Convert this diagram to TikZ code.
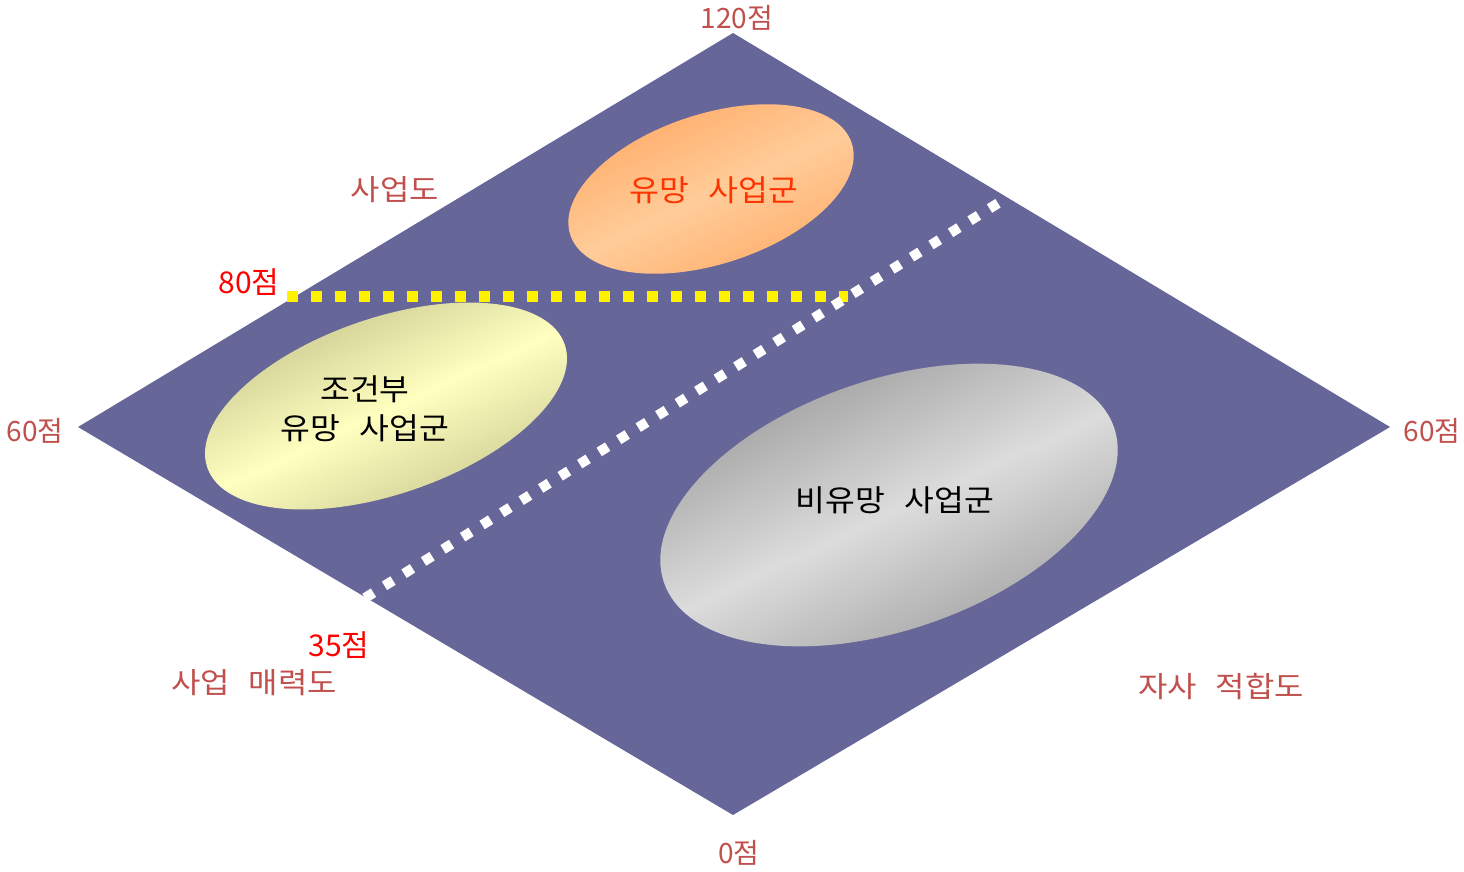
\documentclass[tikz,border=0pt]{standalone}
\usepackage{fontspec}
\setmainfont{Noto Sans CJK KR}
\definecolor{board}{HTML}{666699}
\definecolor{lbl}{HTML}{C0504D}
\definecolor{topred}{HTML}{FF3300}
\definecolor{orgdark}{HTML}{FFAA66}
\definecolor{orglight}{HTML}{FFCC99}
\definecolor{yeldark}{HTML}{C4C48C}
\definecolor{yellight}{HTML}{FFFFC0}
\definecolor{graydark}{HTML}{9A9A9A}
\definecolor{graylight}{HTML}{DCDCDC}
\newcommand\gap{\hspace{0.6em}}
\tikzset{
  numlabel/.style={text=lbl, font=\fontsize{28}{32}\selectfont, inner sep=0pt},
  wordlabel/.style={text=lbl, font=\fontsize{29}{32}\selectfont, inner sep=0pt, transform shape, xscale=1.1},
  cutlabel/.style={text=red, font=\fontsize{30}{34}\selectfont, inner sep=0pt},
  grouptext/.style={font=\fontsize{30}{39}\selectfont, inner sep=0pt, align=center, transform shape, xscale=1.08},
  yellowdots/.style={draw=yellow, line width=11pt, dash pattern=on 11pt off 13pt},
  whitedots/.style={draw=white, line width=10pt, dash pattern=on 10pt off 13pt},
}
\begin{document}
\begin{tikzpicture}[x=1pt,y=-1pt]
\useasboundingbox (0,0) rectangle (1464,872);
% board corners
\coordinate (T) at (733,33);
\coordinate (R) at (1390,427);
\coordinate (B) at (733,815);
\coordinate (L) at (78,427);
\fill[board] (T) -- (R) -- (B) -- (L) -- cycle;
% ellipses
\begin{scope}[shift={(711,189)}, rotate=18]
  \shade[top color=orgdark, bottom color=orgdark, middle color=orglight, shading angle=25]
    (0,0) ellipse[x radius=148, y radius=75];
\end{scope}
\begin{scope}[shift={(386,406)}, rotate=19]
  \shade[top color=yeldark, bottom color=yeldark, middle color=yellight, shading angle=25]
    (0,0) ellipse[x radius=189, y radius=88];
\end{scope}
\begin{scope}[shift={(889,505)}, rotate=19]
  \shade[top color=graydark, bottom color=graydark, middle color=graylight, shading angle=25]
    (0,0) ellipse[x radius=238, y radius=125];
\end{scope}
% dotted cut lines
\coordinate (Ys) at (287,296);
\coordinate (Ye) at (848,296);
\coordinate (Ws) at (365,598);
\coordinate (We) at (1008,197);
\draw[yellowdots] (Ys) -- (Ye);
\draw[whitedots] (Ws) -- (We);
% group texts
\node[grouptext, text=topred] (g1) at (714,190) {유망\gap 사업군};
\node[grouptext, text=black] (g2) at (365,409) {조건부\\유망\gap 사업군};
\node[grouptext, text=black] (g3) at (895,500) {비유망\gap 사업군};
% labels
\node[numlabel] (l120) at (737,18) {120점};
\node[numlabel] (l0) at (739,853) {0점};
\node[numlabel] (l60l) at (35,431) {60점};
\node[numlabel] (l60r) at (1432,431) {60점};
\node[wordlabel] (lbiz) at (395,190) {사업도};
\node[wordlabel] (lattr) at (254,683) {사업\gap 매력도};
\node[wordlabel] (lfit) at (1221,687) {자사\gap 적합도};
\node[cutlabel] (l80) at (249,282) {80점};
\node[cutlabel] (l35) at (339,645) {35점};
\end{tikzpicture}
\end{document}
